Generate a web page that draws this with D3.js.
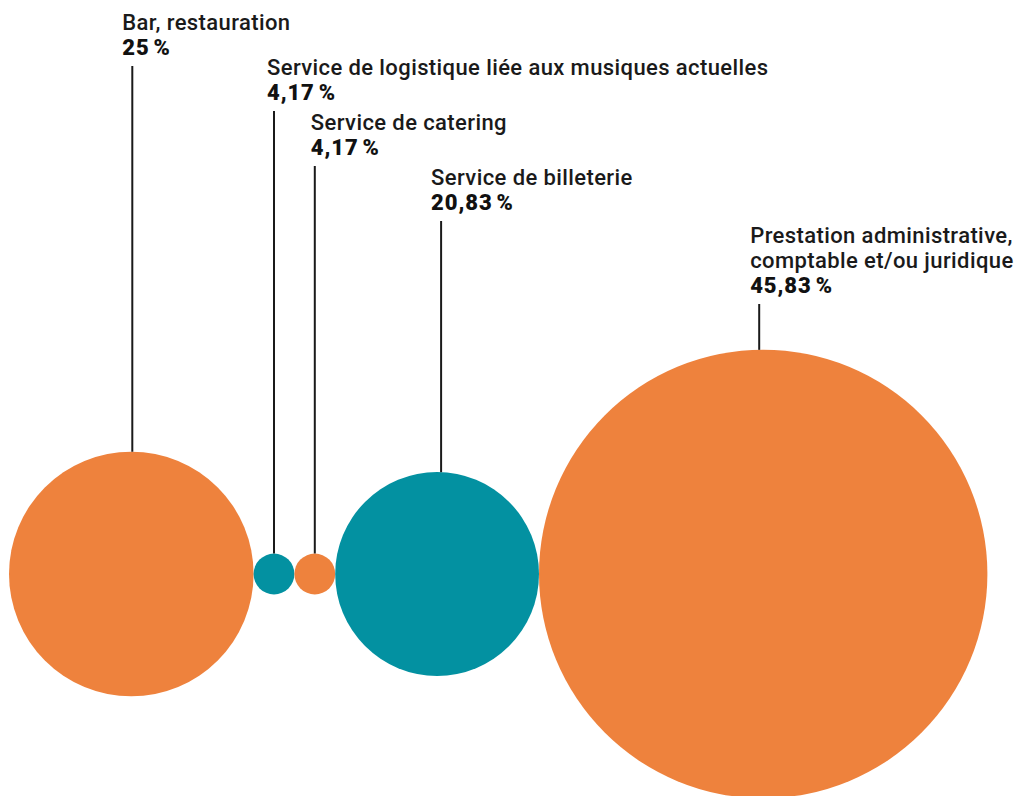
<!DOCTYPE html>
<html>
<head>
<meta charset="utf-8">
<script src="https://cdn.jsdelivr.net/npm/d3@7"></script>
<style>
  body { margin: 0; background: #fff; }
  svg { display: block; }
  .lbl { font-family: Roboto, "Noto Sans", sans-serif; font-weight: 500; font-size: 22px; letter-spacing: 0.4px; fill: #1a1a1a; }
  .pct { font-family: Roboto, "Noto Sans", sans-serif; font-weight: 900; font-size: 22px; letter-spacing: 0.9px; fill: #111; }
</style>
</head>
<body>
<svg id="chart"></svg>
<script>
// data
var categories = ["Bar, restauration",
    "Service de logistique liée aux musiques actuelles",
    "Service de catering",
    "Service de billeterie",
    "Prestation administrative,\ncomptable et/ou juridique"];
var values = [25, 4.17, 4.17, 20.83, 45.83];
var pctLabels = ["25", "4,17", "4,17", "20,83", "45,83"];
var colors = ["#ee823d", "#0391a1", "#ee823d", "#0391a1", "#ee823d"];

// label layout (first baseline of each label block, small nudges)
var labelY = [30, 75, 130, 185, 243];
var lineNudge = [1, 0, 0, 4, -4];
var labelShift = [10, 7, 4, 10, 9];

var width = 1024, height = 796;
var cy = 574, x0 = 9;

var svg = d3.select("svg#chart")
    .attr("width", width)
    .attr("height", height);

// radius linear in value
var r = d3.scaleLinear()
    .domain([0, 25])
    .range([0, 122.3]);

// pack circles side by side
var nodes = [];
var cursor = x0;
values.forEach(function(v, i) {
    var rad = r(v);
    nodes.push({ name: categories[i], value: v, pct: pctLabels[i], color: colors[i],
        r: rad, cx: cursor + rad, i: i });
    cursor += 2 * rad;
});

svg.append("g")
    .selectAll("circle")
    .data(nodes)
    .enter()
    .append("circle")
    .attr("cx", function(d) { return d.cx; })
    .attr("cy", cy)
    .attr("r", function(d) { return d.r; })
    .attr("fill", function(d) { return d.color; });

var lab = svg.append("g")
    .selectAll("g")
    .data(nodes)
    .enter()
    .append("g");

lab.each(function(d) {
    var g = d3.select(this);
    var lx = d.cx + lineNudge[d.i];
    var tx = lx - labelShift[d.i];
    var lines = d.name.split("\n");
    var y = labelY[d.i];
    lines.forEach(function(t, k) {
        g.append("text").attr("class", "lbl")
            .attr("x", tx).attr("y", y + k * 25).text(t);
    });
    var py = y + lines.length * 25;
    var p = g.append("text").attr("class", "pct")
        .attr("x", tx).attr("y", py);
    p.append("tspan").text(d.pct);
    p.append("tspan").attr("dx", 4).text("%");
    // leader line
    g.append("line")
        .attr("x1", lx).attr("x2", lx)
        .attr("y1", py + 11)
        .attr("y2", cy - Math.sqrt(Math.max(0, d.r * d.r - (lx - d.cx) * (lx - d.cx))))
        .attr("stroke", "#1a1a1a")
        .attr("stroke-width", 2);
});
</script>
</body>
</html>
